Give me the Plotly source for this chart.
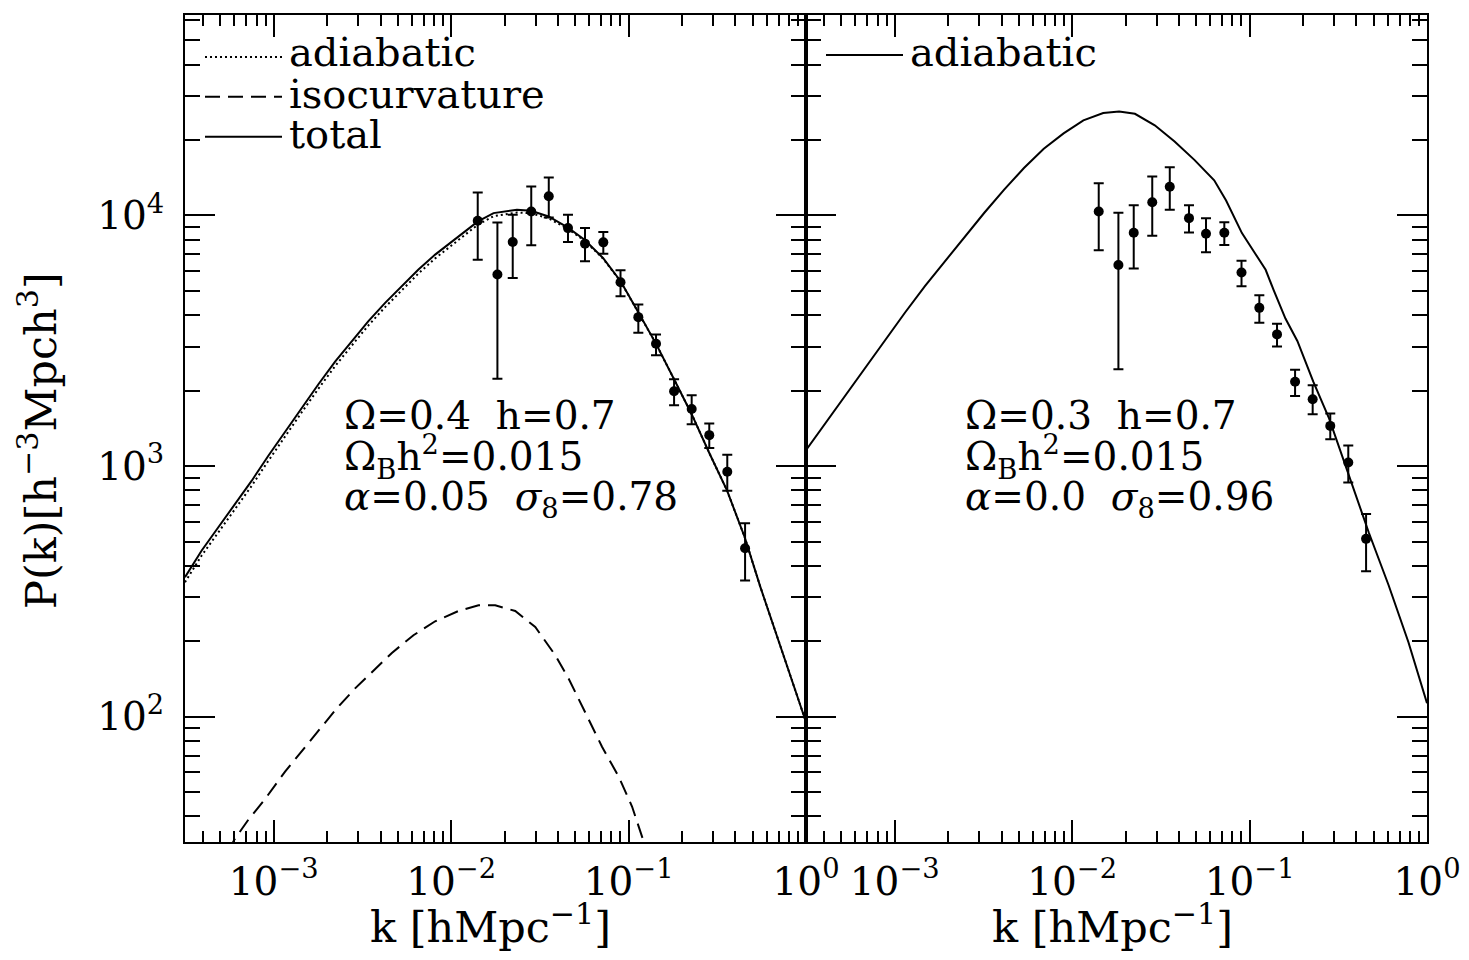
import plotly.graph_objects as go

# ---------------- data ----------------
# Left panel: total and adiabatic model curves
k_left = [3.162e-4, 3.928e-4, 4.874e-4, 6.053e-4, 7.52e-4, 9.328e-4, 1.159e-3, 1.439e-3,
          1.786e-3, 2.218e-3, 2.755e-3, 3.418e-3, 4.246e-3, 5.276e-3, 6.543e-3, 8.128e-3,
          0.0101, 0.01253, 0.01416, 0.01734, 0.02349, 0.02818, 0.03541, 0.04531, 0.0565,
          0.07176, 0.0902, 0.1139, 0.1434, 0.1804, 0.2268, 0.2842, 0.3592, 0.4514, 0.5535,
          0.7462, 1.0]
P_total_left = [360.5, 460.5, 570.1, 706.3, 874.4, 1100, 1374, 1712, 2121, 2609, 3154, 3788,
                4479, 5220, 6083, 6981, 7884, 8906, 9469, 10220, 10540, 10440, 9913, 8962,
                8007, 6766, 5465, 4088, 3060, 2220, 1611, 1133, 797.7, 520.2, 328.9, 175.9, 95.2]
P_adiabatic_left = [344, 440, 544, 674, 835, 1050, 1316, 1640, 2036, 2505, 3028, 3644, 4309,
                    5032, 5870, 6744, 7632, 8639, 9194, 9934, 10277, 10210, 9745, 8854, 7943,
                    6732, 5449, 4080, 3057, 2220, 1611, 1133, 797.7, 520.2, 328.9, 175.9, 95.2]

# Left panel: isocurvature curve
k_iso = [5.527e-4, 5.999e-4, 7.194e-4, 8.937e-4, 1.159e-3, 1.470e-3, 1.826e-3, 2.268e-3,
         2.876e-3, 3.648e-3, 4.633e-3, 6.132e-3, 8.128e-3, 0.01100, 0.01427, 0.01772,
         0.02298, 0.02979, 0.03863, 0.04590, 0.05703, 0.07084, 0.08788, 0.1046, 0.1216, 0.1276]
P_iso = [28.9, 32.3, 38.8, 46.9, 60.4, 74.2, 89.9, 108.0, 129.7, 153.3, 179.7, 211.3, 240.3,
         264.1, 278.3, 278.3, 264.1, 228.0, 175.9, 142.1, 103.1, 75.9, 57.7, 43.8, 31.8, 28.1]

# Right panel: adiabatic curve
k_right = [3.162e-4, 4.089e-4, 5.290e-4, 6.839e-4, 8.845e-4, 1.144e-3, 1.480e-3, 1.913e-3,
           2.474e-3, 3.200e-3, 4.139e-3, 5.351e-3, 6.920e-3, 8.950e-3, 0.01157, 0.01497,
           0.01840, 0.02259, 0.02922, 0.03779, 0.04886, 0.06319, 0.07374, 0.09056, 0.1057,
           0.1232, 0.1367, 0.1593, 0.1859, 0.2286, 0.2806, 0.3634, 0.4692, 0.6077, 0.7859, 1.0]
P_adiabatic_right = [1158, 1494, 1919, 2476, 3180, 4102, 5230, 6546, 8193, 10254, 12686,
                     15472, 18450, 21270, 23960, 25640, 26020, 25450, 22900, 19730, 16670,
                     13820, 11470, 8508, 7187, 6071, 5036, 3879, 3157, 2172, 1551, 918.9,
                     544.5, 334.7, 198.2, 113.1]

# Measured power spectrum (same k bins in both panels)
k_data = [0.01412, 0.01823, 0.02224, 0.02828, 0.0355, 0.04556, 0.05682, 0.07206, 0.09007,
          0.1135, 0.1428, 0.1805, 0.2268, 0.285, 0.36, 0.4536]
P_data_left = [9530, 5810, 7834, 10378, 11940, 8906, 7720, 7813, 5415, 3930, 3077, 1990,
               1691, 1329, 949.6, 470.1]
P_upper_left = [12350, 9383, 10070, 13050, 14170, 10070, 8906, 8585, 6043, 4415, 3354, 2220,
                1918, 1478, 1110, 591.3]
P_lower_left = [6665, 2233, 5632, 7600, 9822, 7834, 6565, 7042, 4763, 3402, 2766, 1750,
                1470, 1180, 797.7, 349.8]
P_data_right = [10378, 6345, 8538, 11300, 13016, 9759, 8461, 8538, 5918, 4279, 3354, 2172,
                1849, 1447, 1034, 512.5]
P_upper_right = [13450, 10254, 10995, 14300, 15570, 10995, 9759, 9408, 6604, 4807, 3696, 2425,
                 2101, 1620, 1209, 644.6]
P_lower_right = [7259, 2434, 6138, 8307, 10540, 8561, 7129, 7621, 5220, 3729, 3004, 1905,
                 1611, 1281, 860.8, 380.9]

x_tickvals = [1e-3, 1e-2, 1e-1, 1]
x_ticktext = ["10<sup>\u22123</sup>", "10<sup>\u22122</sup>", "10<sup>\u22121</sup>", "10<sup>0</sup>"]
y_tickvals = [1e2, 1e3, 1e4]
y_ticktext = ["10<sup>2</sup>", "10<sup>3</sup>", "10<sup>4</sup>"]

# ---------------- figure ----------------
FONT = "DejaVu Serif"
fig = go.Figure()

def err(p, hi, lo):
    return dict(type="data", symmetric=False,
                array=[h - v for h, v in zip(hi, p)],
                arrayminus=[v - l for v, l in zip(p, lo)],
                color="black", thickness=2, width=5)

fig.add_trace(go.Scatter(x=k_left, y=P_adiabatic_left, mode="lines",
                         line=dict(color="black", width=2, dash="2px,3px"),
                         xaxis="x", yaxis="y", showlegend=False))
fig.add_trace(go.Scatter(x=k_iso, y=P_iso, mode="lines",
                         line=dict(color="black", width=2, dash="15px,8px"),
                         xaxis="x", yaxis="y", showlegend=False))
fig.add_trace(go.Scatter(x=k_left, y=P_total_left, mode="lines",
                         line=dict(color="black", width=2),
                         xaxis="x", yaxis="y", showlegend=False))
fig.add_trace(go.Scatter(x=k_data, y=P_data_left, mode="markers",
                         marker=dict(color="black", size=10),
                         error_y=err(P_data_left, P_upper_left, P_lower_left),
                         xaxis="x", yaxis="y", showlegend=False))

fig.add_trace(go.Scatter(x=k_right, y=P_adiabatic_right, mode="lines",
                         line=dict(color="black", width=2),
                         xaxis="x2", yaxis="y2", showlegend=False))
fig.add_trace(go.Scatter(x=k_data, y=P_data_right, mode="markers",
                         marker=dict(color="black", size=10),
                         error_y=err(P_data_right, P_upper_right, P_lower_right),
                         xaxis="x2", yaxis="y2", showlegend=False))

minor_x = [m * 10.0 ** d for d in range(-4, 0) for m in range(2, 10) if 3.1e-4 < m * 10.0 ** d < 1]
minor_y = [m * 10.0 ** d for d in range(1, 5) for m in range(2, 10) if 31 < m * 10.0 ** d < 6.4e4]

def xax(domain, anchor):
    return dict(type="log", range=[-3.5, 0], domain=domain, anchor=anchor,
                showline=True, linecolor="black", linewidth=2, mirror="allticks",
                ticks="inside", ticklen=22, tickwidth=2, tickcolor="black",
                tickvals=x_tickvals, ticktext=x_ticktext,
                minor=dict(ticks="inside", ticklen=11, tickwidth=2, tickcolor="black",
                           tickvals=minor_x, showgrid=False),
                showgrid=False, zeroline=False,
                tickfont=dict(family=FONT, size=39, color="black"),
                ticklabelstandoff=4)

def yax(anchor, labels):
    return dict(type="log", range=[1.5, 4.8], domain=[0, 1], anchor=anchor,
                showline=True, linecolor="black", linewidth=2, mirror="allticks",
                ticks="inside", ticklen=30, tickwidth=2, tickcolor="black",
                tickvals=y_tickvals, ticktext=y_ticktext, showticklabels=labels,
                minor=dict(ticks="inside", ticklen=15, tickwidth=2, tickcolor="black",
                           tickvals=minor_y, showgrid=False),
                showgrid=False, zeroline=False,
                tickfont=dict(family=FONT, size=39, color="black"),
                ticklabelstandoff=11)

# the page adds an 8 px body margin, so the figure is reduced by that much
fig.update_layout(
    width=1461, height=952,
    margin=dict(l=177, r=42, t=5, b=118),
    paper_bgcolor="white", plot_bgcolor="white",
    font=dict(family=FONT, color="black"),
    xaxis=xax([0, 0.5], "y"),
    xaxis2=xax([0.5, 1], "y2"),
    yaxis=yax("x", True),
    yaxis2=yax("x2", False),
)

# positions below are page pixels of the reference (plot area 185..1427 x 13..842)
def px2x(px):
    return (px - 185) / 1242.0

def px2y(py):
    return (842.0 - py) / 829.0

keys = [
    (205, 282, 55, "2px,3px", 287, 50, "adiabatic"),
    (205, 282, 95, "15px,8px", 287, 92, "isocurvature"),
    (205, 282, 135, "solid", 287, 132, "total"),
    (826, 903, 53, "solid", 908, 50, "adiabatic"),
]
for x0, x1, yl, dash, xt, yt, label in keys:
    fig.add_shape(type="line", xref="paper", yref="paper",
                  x0=px2x(x0), x1=px2x(x1), y0=px2y(yl), y1=px2y(yl),
                  line=dict(color="black", width=2, dash=dash))
    fig.add_annotation(text=label, xref="paper", yref="paper", x=px2x(xt), y=px2y(yt),
                       xanchor="left", yanchor="middle", showarrow=False,
                       font=dict(family=FONT, size=40, color="black"))

params = [
    (342, ["\u03a9=0.4\u00a0\u00a0h=0.7", "\u03a9<sub>B</sub>h<sup>2</sup>=0.015",
           "<i>\u03b1</i>=0.05\u00a0\u00a0<i>\u03c3</i><sub>8</sub>=0.78"]),
    (963, ["\u03a9=0.3\u00a0\u00a0h=0.7", "\u03a9<sub>B</sub>h<sup>2</sup>=0.015",
           "<i>\u03b1</i>=0.0\u00a0\u00a0<i>\u03c3</i><sub>8</sub>=0.96"]),
]
for xp, lines in params:
    for i, t in enumerate(lines):
        fig.add_annotation(text=t, xref="paper", yref="paper", x=px2x(xp), y=px2y(414 + 42 * i),
                           xanchor="left", yanchor="middle", showarrow=False,
                           font=dict(family=FONT, size=39, color="black"))

for xc in (490, 1112):
    fig.add_annotation(text="k [hMpc<sup>\u22121</sup>]", xref="paper", yref="paper",
                       x=px2x(xc), y=px2y(924), xanchor="center", yanchor="middle",
                       showarrow=False, font=dict(family=FONT, size=43, color="black"))

fig.add_annotation(text="P(k)[h<sup>\u22123</sup>Mpch<sup>3</sup>]", xref="paper", yref="paper",
                   x=px2x(38), y=px2y(440), xanchor="center", yanchor="middle",
                   textangle=-90, showarrow=False,
                   font=dict(family=FONT, size=43, color="black"))

fig.write_html("out.html")
